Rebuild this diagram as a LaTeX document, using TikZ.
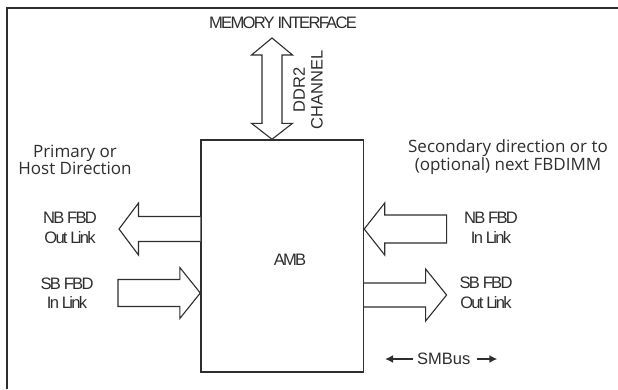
\documentclass[tikz,border=0pt]{standalone}
\usepackage{fontspec}
\setmainfont{Liberation Sans}
\newfontfamily\tightfont[LetterSpace=-10.5]{Liberation Sans}
\newfontfamily\humanfont{Open Sans}
\usetikzlibrary{calc,arrows.meta}
\definecolor{ink}{HTML}{2E2E2E}
\newcommand\harrow[6]{% #1 tail, #2 tip, #3 head length (signed), #4 shaft half, #5 head half, #6 end (-- cycle or empty)
  \draw[blockarrow] ($(#1)+(0,#4)$) -- ($(#2)+(-#3,#4)$) -- ($(#2)+(-#3,#5)$) -- (#2)
    -- ($(#2)+(-#3,-#5)$) -- ($(#2)+(-#3,-#4)$) -- ($(#1)+(0,-#4)$) #6;}
\begin{document}
\begin{tikzpicture}[x=1pt,y=-1pt,
  every node/.style={text=ink, inner sep=0pt},
  blockarrow/.style={draw=ink, line width=1.1pt, line join=miter, fill=white},
  tightlabel/.style={font=\tightfont\fontsize{16.6}{19.5}\selectfont, align=center},
  humanlabel/.style={font=\humanfont\fontsize{17}{16.5}\selectfont, align=center},
  plainlabel/.style={font=\fontsize{16.5}{18}\selectfont, align=center}]
\useasboundingbox (0,0) rectangle (618,389);
% frame
\draw[ink, line width=2pt] (6.5,389) -- (6.5,7.5) -- (618,7.5);
% AMB box
\node[draw=ink, line width=1.4pt, minimum width=162.5pt, minimum height=232pt] (amb) at (282.25,256) {};
\node[tightlabel] (ambtext) at (290,260) {AMB};
% memory interface
\node[tightlabel] (mem) at (283,23) {MEMORY INTERFACE};
\coordinate (ddrtop) at (272,38);
\coordinate (ddrbot) at (amb.north -| ddrtop);
\draw[blockarrow] (ddrtop) -- ($(ddrtop)+(20.5,17)$) -- ($(ddrtop)+(10,17)$) -- ($(ddrbot)+(10,-16)$)
  -- ($(ddrbot)+(20.5,-16)$) -- (ddrbot) -- ($(ddrbot)+(-20.5,-16)$) -- ($(ddrbot)+(-10,-16)$)
  -- ($(ddrtop)+(-10,17)$) -- ($(ddrtop)+(-20.5,17)$) -- cycle;
\node[plainlabel, rotate=90, font=\fontsize{16.5}{17.7}\selectfont] (ddr) at (308,90) {DDR2\\CHANNEL};
% direction labels
\node[humanlabel] (primary) at (75,160) {Primary or\\Host Direction};
\node[humanlabel] (secondary) at (508,157) {Secondary direction or to\\(optional) next FBDIMM};
% left arrows
\coordinate (nbouttail) at (amb.west |- 0,229);
\coordinate (nbouttip) at (119,229);
\harrow{nbouttail}{nbouttip}{-19.5}{12.5}{26}{}
\coordinate (sbintail) at (118,293);
\coordinate (sbintip) at (amb.west |- 0,293);
\harrow{sbintail}{sbintip}{20.5}{13.5}{25.5}{-- cycle}
% right arrows
\coordinate (nbintail) at (446.6,229);
\coordinate (nbintip) at (amb.east |- 0,229);
\harrow{nbintail}{nbintip}{-20.5}{14}{26}{-- cycle}
\coordinate (sbouttail) at (amb.east |- 0,295);
\coordinate (sbouttip) at (446.6,295);
\harrow{sbouttail}{sbouttip}{21}{12}{26}{}
% link labels
\node[tightlabel] (nboutlbl) at (70,228) {NB FBD\\Out Link};
\node[tightlabel] (sbinlbl) at (67,293) {SB FBD\\In Link};
\node[tightlabel] (nbinlbl) at (491,228) {NB FBD\\In Link};
\node[tightlabel] (sboutlbl) at (486,293) {SB FBD\\Out Link};
% SMBus
\node[plainlabel] (smbus) at (443.7,359) {SMBus};
\coordinate (smleft) at (385,359);
\coordinate (smright) at (497.3,359);
\draw[ink, line width=1.6pt, -{Latex[length=8pt,width=8pt]}] ([xshift=-4pt]smbus.west) -- (smleft);
\draw[ink, line width=1.6pt, -{Latex[length=8pt,width=8pt]}] ([xshift=7pt]smbus.east) -- (smright);
\end{tikzpicture}
\end{document}
